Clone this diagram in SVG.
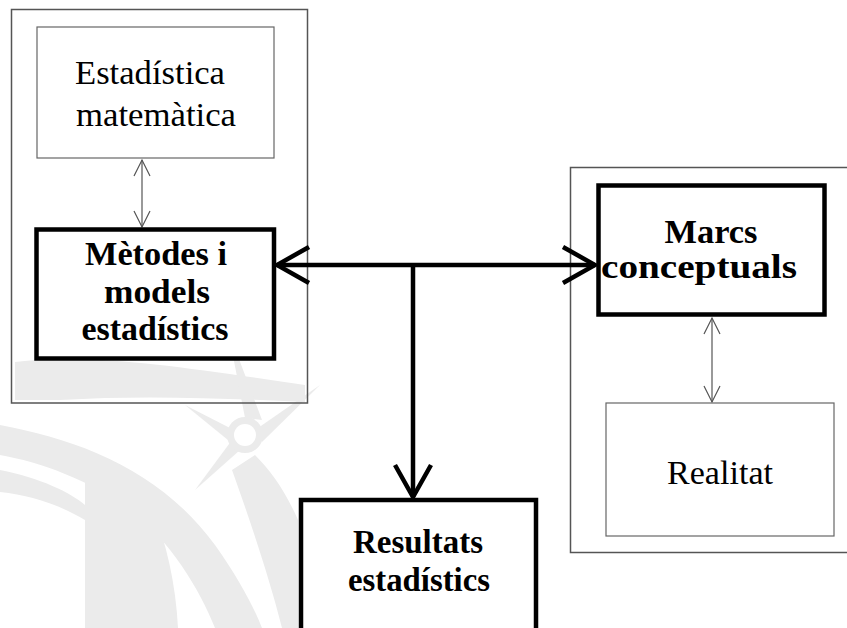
<svg xmlns="http://www.w3.org/2000/svg" width="847" height="628" viewBox="0 0 847 628">
  <defs>
    <style>
      .frame { fill: none; stroke: #555; stroke-width: 1.5; }
      .thin  { fill: #fff; stroke: #666; stroke-width: 1.2; }
      .thick { fill: #fff; stroke: #000; stroke-width: 4.5; }
      .lbl   { font-family: "Liberation Serif", "Times New Roman", serif; font-size: 34px; fill: #000; text-anchor: middle; }
      .bold  { font-weight: bold; }
      .link  { fill: none; stroke: #000; stroke-width: 4.5; }
      .link-thin { fill: none; stroke: #555; stroke-width: 1.2; }
      .wm    { fill: #ebebeb; stroke: none; }
    </style>
    <marker id="headBig" markerUnits="userSpaceOnUse" viewBox="-36 -22 40 44" refX="0" refY="0" markerWidth="40" markerHeight="44" orient="auto-start-reverse">
      <path d="M-32,-18 L0,0 L-32,18" fill="none" stroke="#000" stroke-width="4.5"/>
    </marker>
    <marker id="headSmall" markerUnits="userSpaceOnUse" viewBox="-20 -12 22 24" refX="0" refY="0" markerWidth="22" markerHeight="24" orient="auto-start-reverse">
      <path d="M-16,-8 L0,0 L-16,8" fill="none" stroke="#555" stroke-width="1.2"/>
    </marker>
  </defs>

  <rect width="847" height="628" fill="#fff"/>

  <!-- faint background emblem -->
  <g id="emblem">
    <path class="wm" d="M15,362 C90,352 190,368 305,385 L305,402 C220,398 140,395 60,400 L15,400 Z"/>
    <path class="wm" d="M0,425 C80,440 160,470 215,545 C240,580 255,610 262,628 L215,628 C200,590 170,540 130,510 C90,480 40,462 0,455 Z"/>
    <path class="wm" d="M85,480 L140,480 C160,520 175,570 178,628 L85,628 Z"/>
    <path class="wm" d="M0,470 C40,478 70,492 85,505 L85,520 C60,505 30,495 0,492 Z"/>
    <path class="wm" d="M232,470 C250,520 270,580 282,628 L298,628 L298,520 C285,490 270,470 255,455 Z"/>
    <path class="wm" d="M245,418 L228,330 L262,420 Z"/>
    <path class="wm" d="M258,428 L320,385 L262,442 Z"/>
    <path class="wm" d="M232,440 L195,490 L240,450 Z"/>
    <path class="wm" d="M230,428 L185,405 L228,440 Z"/>
    <circle cx="245" cy="435" r="18" class="wm"/>
    <circle cx="245" cy="435" r="11" fill="#fff"/>
  </g>

  <!-- grouping frames -->
  <rect id="frame-left" class="frame" x="11.5" y="9.5" width="296" height="393.5"/>
  <rect id="frame-right" class="frame" x="570.5" y="167.5" width="300" height="385"/>

  <!-- connectors -->
  <g id="connectors">
    <line class="link-thin" x1="142" y1="160" x2="142" y2="227" marker-start="url(#headSmall)" marker-end="url(#headSmall)"/>
    <line class="link-thin" x1="712" y1="318" x2="712" y2="402" marker-start="url(#headSmall)" marker-end="url(#headSmall)"/>
    <line class="link" x1="277" y1="265" x2="595" y2="265" marker-start="url(#headBig)" marker-end="url(#headBig)"/>
    <line class="link" x1="413" y1="265" x2="413" y2="497" marker-end="url(#headBig)"/>
  </g>

  <g id="estadistica-matematica">
    <rect class="thin" x="37" y="27" width="237" height="131"/>
    <text class="lbl" x="150" y="84" textLength="150" lengthAdjust="spacingAndGlyphs">Estadística</text>
    <text class="lbl" x="156" y="126" textLength="160" lengthAdjust="spacingAndGlyphs">matemàtica</text>
  </g>

  <g id="metodes-models">
    <rect class="thick" x="36.5" y="229.5" width="237.5" height="129"/>
    <text class="lbl bold" x="156" y="265" textLength="142" lengthAdjust="spacingAndGlyphs">Mètodes i</text>
    <text class="lbl bold" x="157" y="303" textLength="106" lengthAdjust="spacingAndGlyphs">models</text>
    <text class="lbl bold" x="155" y="340" textLength="147" lengthAdjust="spacingAndGlyphs">estadístics</text>
  </g>

  <g id="marcs-conceptuals">
    <rect class="thick" x="598.5" y="185.5" width="226" height="129"/>
    <text class="lbl bold" x="711" y="243" textLength="93" lengthAdjust="spacingAndGlyphs">Marcs</text>
    <text class="lbl bold" x="699" y="278" textLength="196" lengthAdjust="spacingAndGlyphs">conceptuals</text>
  </g>

  <g id="realitat">
    <rect class="thin" x="606" y="403" width="228" height="133"/>
    <text class="lbl" x="720" y="484" textLength="106" lengthAdjust="spacingAndGlyphs">Realitat</text>
  </g>

  <g id="resultats">
    <rect class="thick" x="301" y="500" width="235" height="150"/>
    <text class="lbl bold" x="418" y="553" textLength="130" lengthAdjust="spacingAndGlyphs">Resultats</text>
    <text class="lbl bold" x="419" y="591" textLength="142" lengthAdjust="spacingAndGlyphs">estadístics</text>
  </g>
</svg>
